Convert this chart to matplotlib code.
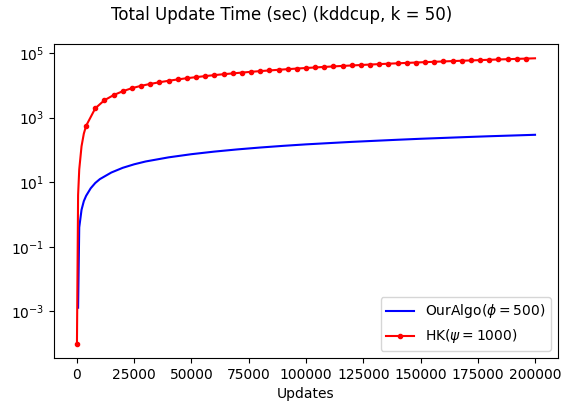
import matplotlib
matplotlib.use("Agg")
import matplotlib.pyplot as plt

# blue series: OurAlgo(phi=500)
our_x = [500, 1000, 2000, 3000, 4000, 6000, 8000, 10000, 15000, 20000, 25000, 30000,
         40000, 50000, 60000, 70000, 80000, 90000, 100000, 110000, 120000, 130000,
         140000, 150000, 160000, 170000, 180000, 190000, 200000]
our_y = [0.0013, 0.4, 1.4, 2.6, 3.8, 6.5, 9.5, 12.5, 20, 28, 36, 44,
         59, 74, 89, 104, 119, 134, 149, 163, 178, 192,
         207, 222, 236, 251, 266, 280, 295]

# red series: HK(psi=1000)
hk_x = [0, 500, 1000, 2000, 3000,
        4000, 8000, 12000, 16000, 20000, 24000, 28000, 32000, 36000, 40000,
        44000, 48000, 52000, 56000, 60000, 64000, 68000, 72000, 76000, 80000,
        84000, 88000, 92000, 96000, 100000, 104000, 108000, 112000, 116000, 120000,
        124000, 128000, 132000, 136000, 140000, 144000, 148000, 152000, 156000, 160000,
        164000, 168000, 172000, 176000, 180000, 184000, 188000, 192000, 196000, 200000]
hk_y = [1e-4, 4, 25, 130, 320,
        560, 1950, 3470, 5000, 6600, 8200, 9700, 11100, 12500, 13900,
        15300, 16700, 18000, 19400, 20800, 22200, 23500, 24900, 26300, 27700,
        29000, 30400, 31800, 33200, 34600, 35900, 37300, 38700, 40100, 41400,
        42800, 44200, 45600, 47000, 48300, 49700, 51100, 52500, 53800, 55200,
        56600, 58000, 59300, 60700, 62100, 63500, 64800, 66200, 67600, 69000]

# markers only every 4000 updates (none on the final point)
hk_marks = [i for i, x in enumerate(hk_x) if x % 4000 == 0 and x < hk_x[-1]]

fig, ax = plt.subplots(figsize=(5.63, 4.04), dpi=100)
fig.subplots_adjust(left=0.096, right=0.991, top=0.891, bottom=0.114)

ax.plot(our_x, our_y, color='blue', label=r'OurAlgo($\phi = 500$)')
ax.plot(hk_x, hk_y, color='red', marker='o', markersize=3, markevery=hk_marks,
        label=r'HK($\psi = 1000$)')

ax.set_yscale('log')
ax.set_xlabel('Updates')
ax.legend(loc='lower right')
fig.suptitle('Total Update Time (sec) (kddcup, k = 50)', y=0.985)

fig.savefig('out.png', dpi=100)
